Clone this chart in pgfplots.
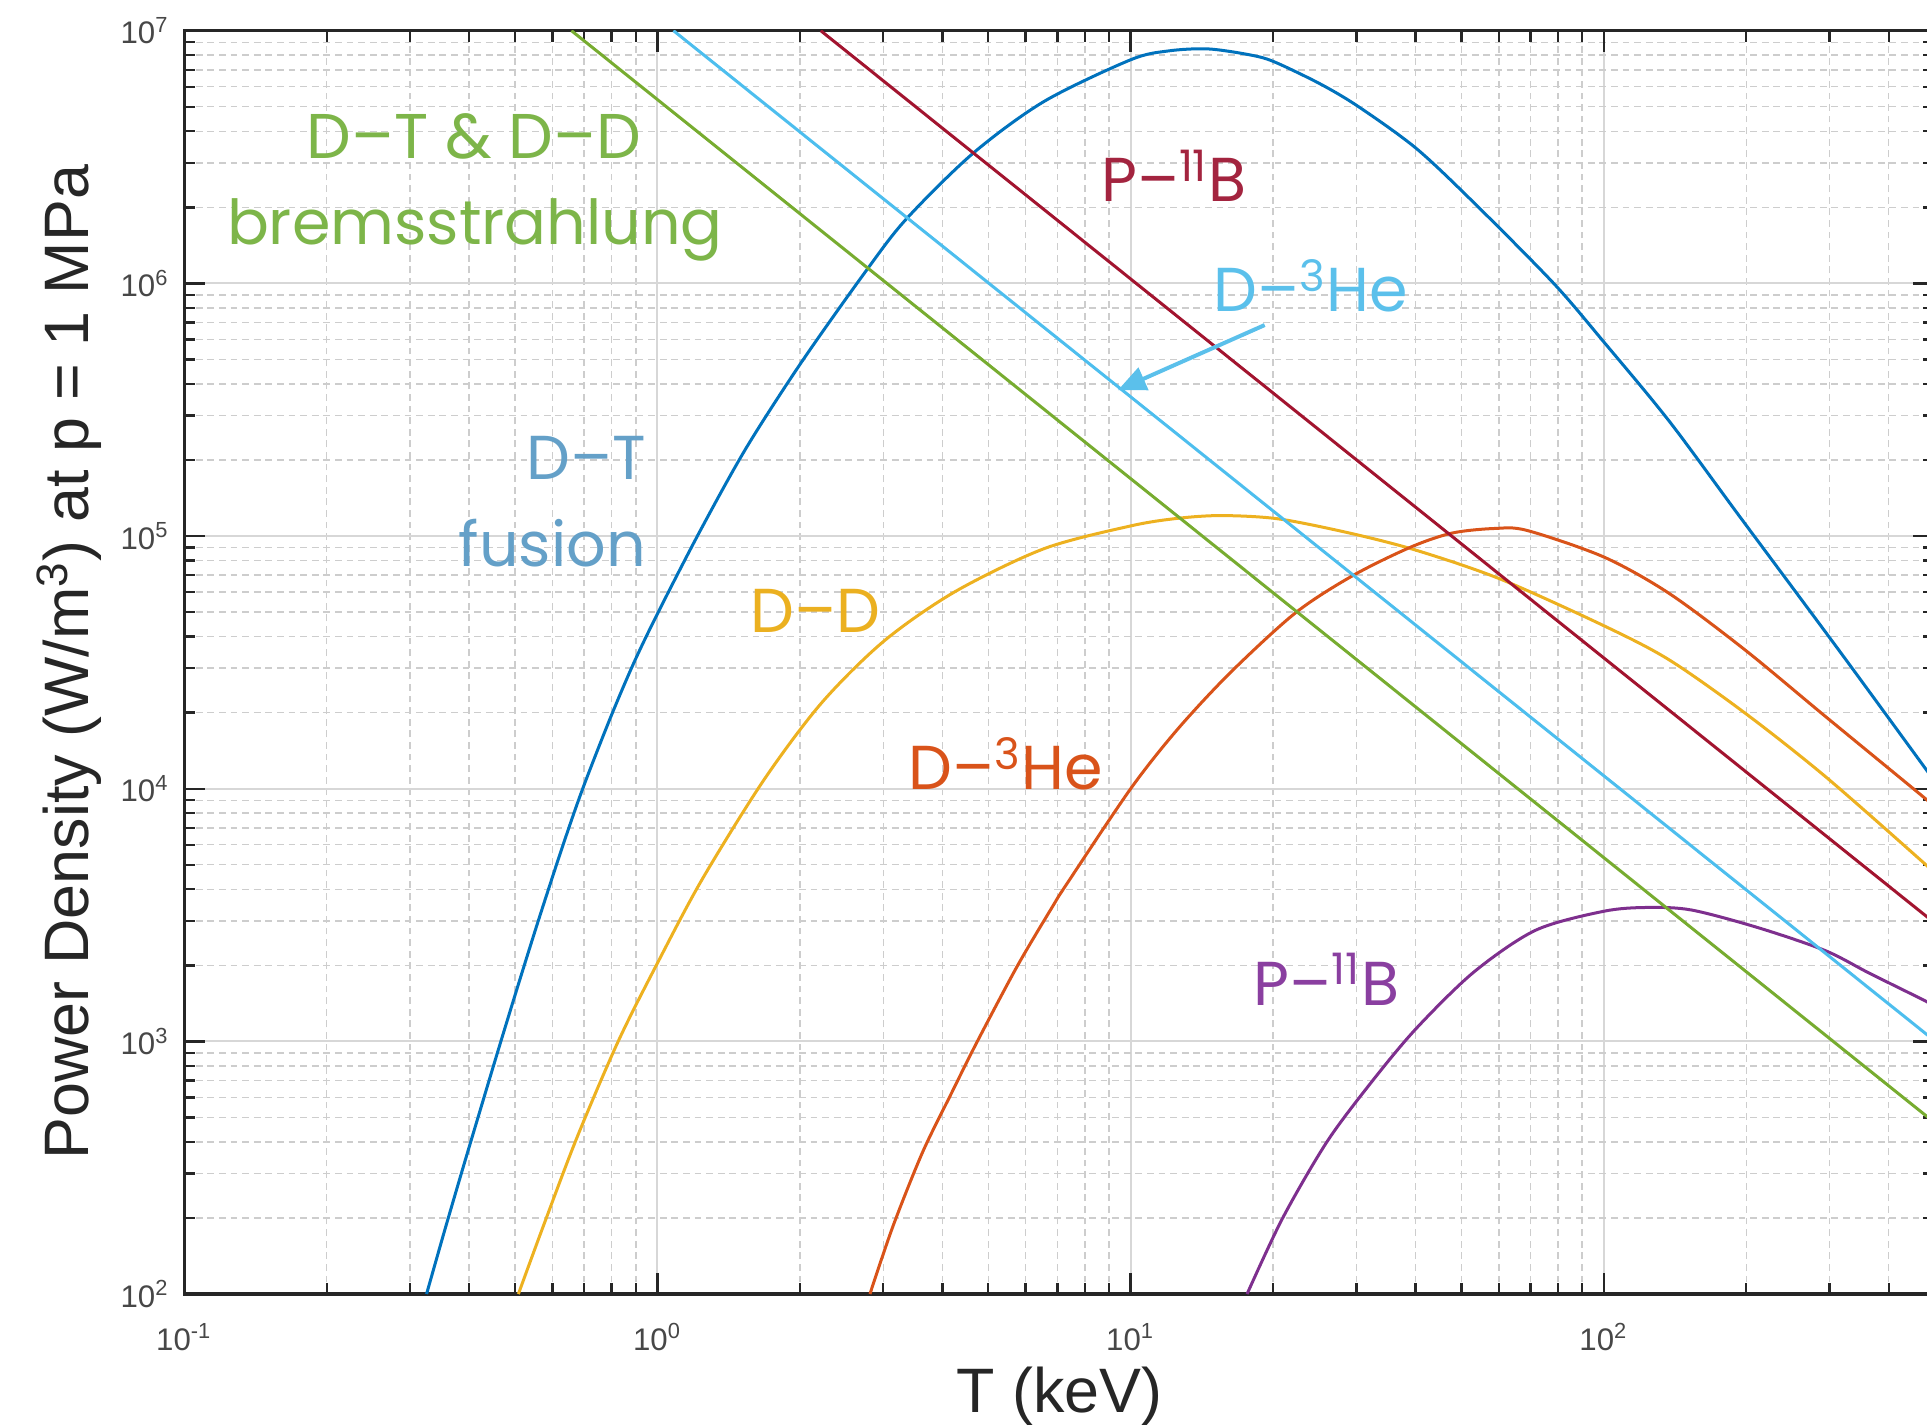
\documentclass[border=0pt]{standalone}
\usepackage{fontspec}
\setmainfont{Liberation Sans}
\newfontfamily\anno{Poppins}
\usepackage{pgfplots}
\pgfplotsset{compat=1.18}
\usetikzlibrary{arrows.meta}
\definecolor{axc}{HTML}{262626}
\definecolor{cDT}{HTML}{0072BD}
\definecolor{cDHe}{HTML}{D95319}
\definecolor{cDD}{HTML}{EDB120}
\definecolor{cPB}{HTML}{7E2F8E}
\definecolor{bGreen}{HTML}{77AC30}
\definecolor{bLBlue}{HTML}{4DBEEE}
\definecolor{bRed}{HTML}{A2142F}
\definecolor{tGreen}{HTML}{7DB549}
\definecolor{tDT}{HTML}{64A0C8}
\definecolor{tRed}{HTML}{A3243F}
\definecolor{tLBlue}{HTML}{5BC0EB}
\definecolor{tDD}{HTML}{EBB020}
\definecolor{tDHe}{HTML}{D9531A}
\definecolor{tPB}{HTML}{8A3FA0}
\definecolor{gmaj}{RGB}{215,215,215}
\definecolor{gmin}{RGB}{205,205,205}

\pgfplotstableread{
T P
0.3251 100
0.3548 177.8
0.3890 319.9
0.4266 571.5
0.4667 1000
0.5129 1778
0.5623 3076
0.6310 5957
0.6950 10000
0.7943 18967
0.8913 31477
1.0046 50119
1.2303 104713
1.5417 223872
2.0184 489779
2.7606 1122018
3.3574 1798871
4.6452 3273407
6.5615 5248075
10 7673615
12.023 8317600
14.555 8472300
17.783 8035300
20.045 7550900
25.119 6166000
30.269 5011900
40.087 3427700
53.088 2089300
78.343 1000000
100 586140
137.40 285100
194.09 118850
316.23 34674
500 10715
}\dtfus

\pgfplotstableread{
T P
0.5082 100
0.5754 188.4
0.6761 416.9
0.8260 1000
1 2041.7
1.2417 4365.2
1.6788 10839
2.2233 21878
3.0130 38459
4.2560 60256
6.5615 89125
10 109648
12.561 117490
15.560 120504
20.512 116950
28.973 102802
40.087 87902
60.395 67608
100 44157
137.40 32359
198.61 19953
293.09 11220
468.81 5188
500 4624
}\ddfus

\pgfplotstableread{
T P
2.8119 100
3.1477 186.2
3.6308 363.1
4.1687 616.6
4.7424 1000
5.7677 1995.3
6.8549 3443.5
7.3114 4168.7
10 10000
12.561 17179
16.255 28840
22.336 49774
29.580 69984
39.174 90573
47.863 102802
58.884 107152
68.865 105196
100 82604
137.40 59293
198.61 35481
293.09 19409
468.81 9418.9
500 8511.4
}\dhefus

\pgfplotstableread{
T P
17.620 100
20.941 199.5
26.002 400.9
32.285 690.2
40.087 1122.0
53.088 1879.3
71.779 2754.2
100 3273.4
123.31 3388.4
153.11 3311.3
211.84 2818.4
293.09 2290.9
363.92 1862.1
468.81 1472.3
500 1380.4
}\pbfus

\begin{document}
\begin{tikzpicture}
\begin{axis}[
  xmode=log, ymode=log,
  scale only axis,
  width=437.6pt, height=315.85pt,
  xmin=0.1, xmax=500, ymin=100, ymax=1e7,
  xtick={0.1,1,10,100},
  xticklabels={10\textsuperscript{-1},10\textsuperscript{0},10\textsuperscript{1},10\textsuperscript{2}},
  ytick={1e2,1e3,1e4,1e5,1e6,1e7},
  yticklabels={10\textsuperscript{2},10\textsuperscript{3},10\textsuperscript{4},10\textsuperscript{5},10\textsuperscript{6},10\textsuperscript{7}},
  minor xtick={0.2,0.3,0.4,0.5,0.6,0.7,0.8,0.9,2,3,4,5,6,7,8,9,20,30,40,50,60,70,80,90,200,300,400},
  minor ytick={200,300,400,500,600,700,800,900,2000,3000,4000,5000,6000,7000,8000,9000,20000,30000,40000,50000,60000,70000,80000,90000,2e5,3e5,4e5,5e5,6e5,7e5,8e5,9e5,2e6,3e6,4e6,5e6,6e6,7e6,8e6,9e6},
  grid=both,
  major grid style={draw=gmaj, line width=0.5pt},
  minor grid style={draw=gmin, line width=0.35pt, dash pattern=on 1.7pt off 1.2pt},
  tick align=inside,
  major tick length=5.3pt, minor tick length=2.8pt,
  tick style={axc, line width=0.6pt},
  axis line style={axc, line width=0.8pt},
  ticklabel style={font=\fontsize{7.8}{9}\selectfont, text=axc!85},
  xticklabel style={anchor=base, inner sep=0pt, yshift=-14pt},
  yticklabel style={anchor=east, inner sep=0pt, xshift=-3.5pt},
  xlabel={T (keV)},
  ylabel={Power Density (W/m\textsuperscript{3}) at p = 1 MPa},
  label style={font=\fontsize{15.7}{18}\selectfont, text=axc},
  xlabel style={at={(axis description cs:0.5,-0.0934)}, anchor=base},
  ylabel style={at={(axis description cs:-0.055,0.5)}, anchor=base},
  every axis plot/.append style={line width=0.75pt, mark=none},
]
\addplot[cDT, smooth] table[x=T,y=P]{\dtfus};
\addplot[cDD, smooth] table[x=T,y=P]{\ddfus};
\addplot[cDHe, smooth] table[x=T,y=P]{\dhefus};
\addplot[cPB, smooth] table[x=T,y=P]{\pbfus};
\addplot[bGreen] coordinates {(0.658,1e7) (500,477)};
\addplot[bLBlue] coordinates {(1.081,1e7) (500,1006)};
\addplot[bRed] coordinates {(2.213,1e7) (500,2944)};

\node[anchor=base, text=tGreen, font=\anno\fontsize{15.8}{18}\selectfont] at (axis cs:0.409,3.13e6) {D–T \& D–D};
\node[anchor=base, text=tGreen, font=\anno\fontsize{15.5}{18}\selectfont] at (axis cs:0.4114,1.42e6) {bremsstrahlung};
\node[anchor=base, text=tRed, font=\anno\fontsize{15.5}{18}\selectfont] at (axis cs:12.35,2.10e6) {P–\textsuperscript{11}B};
\node[anchor=base, text=tLBlue, font=\anno\fontsize{15.5}{18}\selectfont] at (axis cs:24.0,7.71e5) {D–\textsuperscript{3}He};
\draw[tLBlue, line width=1pt, -{Triangle[length=7pt,width=6pt]}] (axis cs:19.2,6.84e5) -- (axis cs:9.40,3.78e5);
\node[anchor=base east, text=tDT, font=\anno\fontsize{15.5}{18}\selectfont] at (axis cs:1.012,1.67e5) {D–T};
\node[anchor=base east, text=tDT, font=\anno\fontsize{15.5}{18}\selectfont] at (axis cs:1.012,7.55e4) {fusion};
\node[anchor=base, text=tDD, font=\anno\fontsize{15.5}{18}\selectfont] at (axis cs:2.16,4.17e4) {D–D};
\node[anchor=base, text=tDHe, font=\anno\fontsize{15.5}{18}\selectfont] at (axis cs:5.45,9.89e3) {D–\textsuperscript{3}He};
\node[anchor=base, text=tPB, font=\anno\fontsize{15.5}{18}\selectfont] at (axis cs:25.9,1393) {P–\textsuperscript{11}B};
\end{axis}
\pgfresetboundingbox
\path[use as bounding box] ([shift={(-46.08pt,-32.73pt)}]current axis.south west) rectangle ([shift={(-1.9pt,7.68pt)}]current axis.north east);
\end{tikzpicture}
\end{document}
